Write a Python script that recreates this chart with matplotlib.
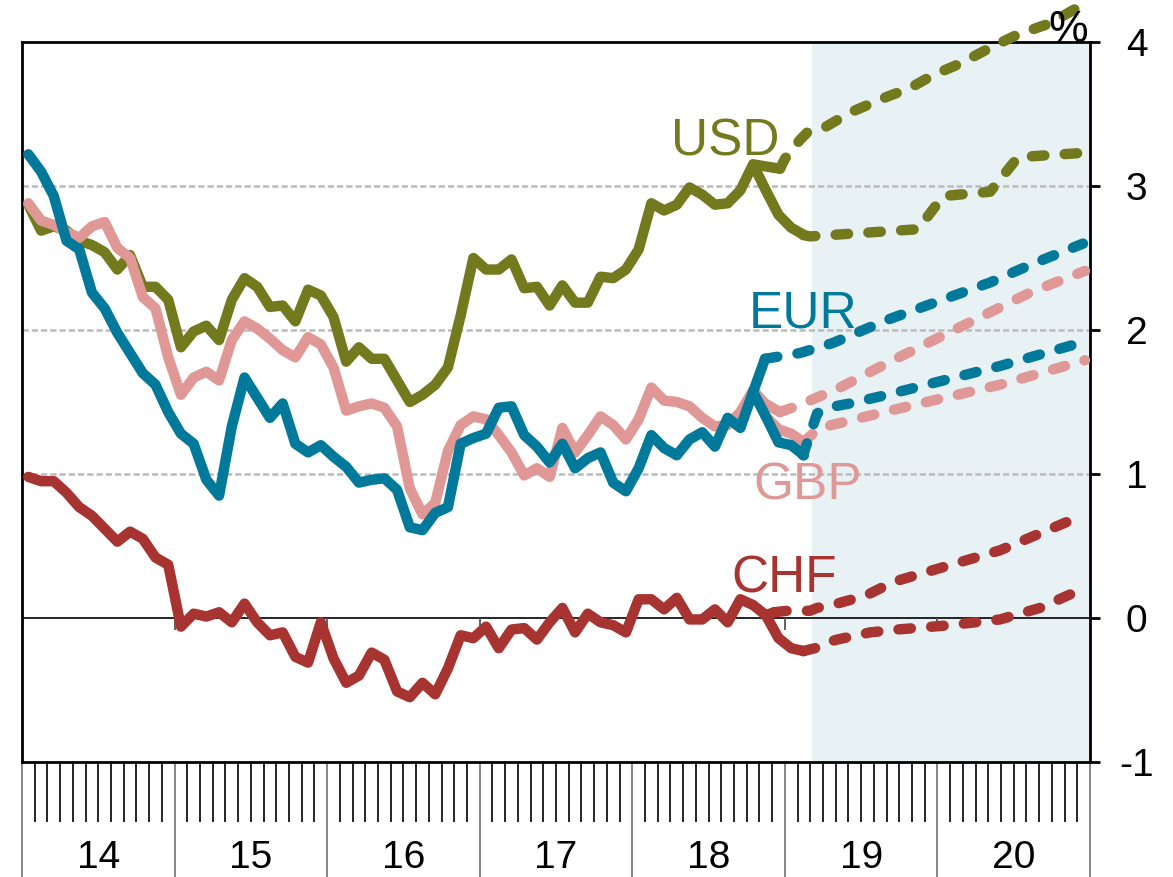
import matplotlib.pyplot as plt
import matplotlib.transforms as mtransforms
import numpy as np

plt.rcParams['font.family'] = ['Liberation Sans', 'DejaVu Sans']

# monthly history, Jan 2014 .. Feb 2019
t_hist = 2014 + (np.arange(62) + 0.5) / 12

usd_hist = [2.87, 2.69, 2.72, 2.69, 2.62, 2.59, 2.54, 2.42, 2.52, 2.30, 2.30, 2.21,
            1.88, 1.99, 2.03, 1.93, 2.21, 2.36, 2.30, 2.16, 2.17, 2.06, 2.28, 2.24,
            2.09, 1.78, 1.88, 1.80, 1.80, 1.65, 1.50, 1.55, 1.62, 1.74, 2.10, 2.50,
            2.42, 2.42, 2.49, 2.29, 2.30, 2.17, 2.31, 2.19, 2.19, 2.37, 2.36, 2.42,
            2.56, 2.88, 2.83, 2.87, 2.99, 2.94, 2.87, 2.88, 2.97, 3.15, 2.97, 2.80,
            2.71, 2.66]
eur_hist = [3.22, 3.10, 2.93, 2.62, 2.56, 2.26, 2.15, 1.98, 1.84, 1.70, 1.62, 1.43,
            1.28, 1.21, 0.96, 0.85, 1.33, 1.67, 1.53, 1.39, 1.49, 1.21, 1.15, 1.20,
            1.12, 1.05, 0.94, 0.96, 0.97, 0.89, 0.63, 0.61, 0.73, 0.77, 1.21, 1.25,
            1.28, 1.46, 1.47, 1.27, 1.19, 1.08, 1.21, 1.04, 1.11, 1.15, 0.94, 0.88,
            1.04, 1.27, 1.18, 1.13, 1.24, 1.29, 1.19, 1.39, 1.32, 1.57, 1.40, 1.22,
            1.20, 1.13]
gbp_hist = [2.88, 2.76, 2.73, 2.68, 2.64, 2.72, 2.75, 2.57, 2.50, 2.23, 2.15, 1.81,
            1.55, 1.67, 1.71, 1.65, 1.93, 2.06, 2.01, 1.94, 1.86, 1.81, 1.95, 1.90,
            1.74, 1.44, 1.47, 1.49, 1.46, 1.33, 0.90, 0.72, 0.80, 1.16, 1.34, 1.40,
            1.38, 1.27, 1.15, 0.99, 1.04, 0.98, 1.32, 1.15, 1.27, 1.40, 1.34, 1.24,
            1.38, 1.60, 1.51, 1.50, 1.47, 1.39, 1.33, 1.34, 1.43, 1.58, 1.40, 1.31,
            1.28, 1.22]
chf_hist = [0.98, 0.95, 0.95, 0.87, 0.77, 0.71, 0.62, 0.53, 0.60, 0.55, 0.42, 0.37,
            -0.06, 0.03, 0.01, 0.04, -0.03, 0.10, -0.03, -0.12, -0.10, -0.27, -0.31, -0.03,
            -0.28, -0.45, -0.40, -0.24, -0.29, -0.51, -0.55, -0.45, -0.53, -0.35, -0.12, -0.14,
            -0.06, -0.21, -0.08, -0.07, -0.15, -0.03, 0.07, -0.10, 0.03, -0.03, -0.05, -0.10,
            0.13, 0.13, 0.06, 0.14, -0.01, -0.01, 0.06, -0.03, 0.13, 0.09, 0.02, -0.14,
            -0.21, -0.23]

# earlier vintage: end of history and forward path
usd_tail_t = [2018.792, 2018.968]
usd_tail = [3.15, 3.12]
usd_fwd1_t = [2018.968, 2019.001, 2019.099, 2019.145, 2019.250, 2019.427, 2019.670,
              2019.820, 2019.971, 2020.148, 2020.364, 2020.522, 2020.738, 2020.954]
usd_fwd1 = [3.12, 3.19, 3.32, 3.37, 3.40, 3.51, 3.62, 3.68, 3.77, 3.85, 3.97, 4.05, 4.13, 4.26]
usd_fwd2_t = [2019.119, 2019.165, 2019.873, 2020.037, 2020.345, 2020.528, 2020.954]
usd_fwd2 = [2.66, 2.65, 2.70, 2.93, 2.96, 3.20, 3.23]

eur_tail_t = [2018.792, 2018.870]
eur_tail = [1.57, 1.80]
eur_fwd1_t = [2018.870, 2019.099, 2019.315, 2019.670, 2020.345, 2020.626, 2020.954]
eur_fwd1 = [1.80, 1.84, 1.91, 2.07, 2.33, 2.46, 2.60]
eur_fwd2_t = [2019.119, 2019.211, 2019.276, 2019.427, 2019.670, 2020.410, 2020.967]
eur_fwd2 = [1.13, 1.42, 1.46, 1.49, 1.55, 1.75, 1.92]

gbp_tail_t = [2018.792, 2018.870, 2018.968]
gbp_tail = [1.58, 1.49, 1.43]
gbp_fwd1_t = [2018.968, 2019.099, 2019.361, 2019.689, 2020.607, 2020.869, 2020.967]
gbp_fwd1 = [1.43, 1.48, 1.60, 1.78, 2.26, 2.37, 2.41]
gbp_fwd2_t = [2019.119, 2019.184, 2019.230, 2019.689, 2020.410, 2020.967]
gbp_fwd2 = [1.22, 1.28, 1.32, 1.44, 1.62, 1.79]

chf_tail_t = [2018.875, 2018.930]
chf_tail = [0.02, 0.04]
chf_fwd1_t = [2018.930, 2019.014, 2019.165, 2019.211, 2019.342, 2019.427, 2019.558,
              2019.709, 2020.410, 2020.967]
chf_fwd1 = [0.04, 0.05, 0.05, 0.07, 0.10, 0.125, 0.17, 0.25, 0.47, 0.72]
chf_fwd2_t = [2019.119, 2019.197, 2019.276, 2019.342, 2019.473, 2019.558, 2019.735,
              2020.083, 2020.410, 2020.672, 2020.967]
chf_fwd2 = [-0.23, -0.21, -0.17, -0.15, -0.12, -0.10, -0.08, -0.05, -0.01, 0.07, 0.21]

years = list(range(2014, 2022))
year_labels = ['14', '15', '16', '17', '18', '19', '20']
forecast_start = 2019.18

c_usd = '#737A1E'
c_eur = '#00799A'
c_gbp = '#E09896'
c_chf = '#A83431'

fig = plt.figure(figsize=(11.73, 8.77), dpi=100)
ax = fig.add_axes([22/1173, 1 - 762/877, 1068/1173, 720/877])
ax.set_xlim(2014, 2021)
ax.set_ylim(-1, 4)

ax.axvspan(forecast_start, 2021, color='#E8F2F5', lw=0, zorder=0)
for g in [1, 2, 3]:
    ax.axhline(g, color='#BBBBBB', lw=1.8, ls=(0, (2.5, 1.2)), zorder=1)
ax.axhline(0, color='black', lw=1.2, zorder=1)
ax.vlines(years[1:-1], -0.085, 0, color='#555555', lw=1.3, zorder=1)

solid = dict(lw=7.5, solid_capstyle='round', solid_joinstyle='round', clip_on=False, zorder=3)
dash = dict(lw=7.5, ls=(0, (1.2, 1.95)), dash_capstyle='round', clip_on=False, zorder=3)

series = [
    (c_usd, usd_hist, usd_tail_t, usd_tail, usd_fwd1_t, usd_fwd1, usd_fwd2_t, usd_fwd2),
    (c_gbp, gbp_hist, gbp_tail_t, gbp_tail, gbp_fwd1_t, gbp_fwd1, gbp_fwd2_t, gbp_fwd2),
    (c_eur, eur_hist, eur_tail_t, eur_tail, eur_fwd1_t, eur_fwd1, eur_fwd2_t, eur_fwd2),
    (c_chf, chf_hist, chf_tail_t, chf_tail, chf_fwd1_t, chf_fwd1, chf_fwd2_t, chf_fwd2),
]
for col, h, tt, tv, f1t, f1, f2t, f2 in series:
    ax.plot(f1t, f1, color=col, **dash)
    ax.plot(f2t, f2, color=col, **dash)
    ax.plot(tt, tv, color=col, **solid)
    ax.plot(t_hist, h, color=col, **solid)

ax.text(2018.608, 3.215, 'USD', color=c_usd, fontsize=37, ha='center', va='baseline')
ax.text(2019.119, 2.02, 'EUR', color=c_eur, fontsize=37, ha='center', va='baseline')
ax.text(2019.150, 0.82, 'GBP', color=c_gbp, fontsize=37, ha='center', va='baseline')
ax.text(2018.994, 0.18, 'CHF', color=c_chf, fontsize=37, ha='center', va='baseline')

for s in ax.spines.values():
    s.set_linewidth(2.0)
    s.set_color('black')

ax.yaxis.tick_right()
ax.set_yticks(range(-1, 5))
ax.set_yticklabels(['-1', '0', '1', '2', '3', '4'])
ax.tick_params(axis='y', direction='out', length=7.5, width=2.0, pad=26, labelsize=28)
for lab in ax.get_yticklabels():
    lab.set_horizontalalignment('center')

months = [y + m / 12 for y in range(2014, 2021) for m in range(1, 12)]
ax.set_xticks(years)
ax.set_xticklabels([])
ax.set_xticks(months, minor=True)
ax.tick_params(axis='x', which='major', direction='out', length=85, width=1.1, color='#666666')
ax.tick_params(axis='x', which='minor', direction='out', length=43, width=1.2, color='black')

trans = mtransforms.blended_transform_factory(ax.transData, ax.transAxes)
for y, lab in zip(years[:-1], year_labels):
    ax.text(y + 0.5, -0.133, lab, transform=trans, ha='center', va='center', fontsize=28)

ax.text(0.998, 1.0, '%', transform=ax.transAxes, ha='right', va='baseline', fontsize=32)

fig.savefig('out.png', dpi=100)
